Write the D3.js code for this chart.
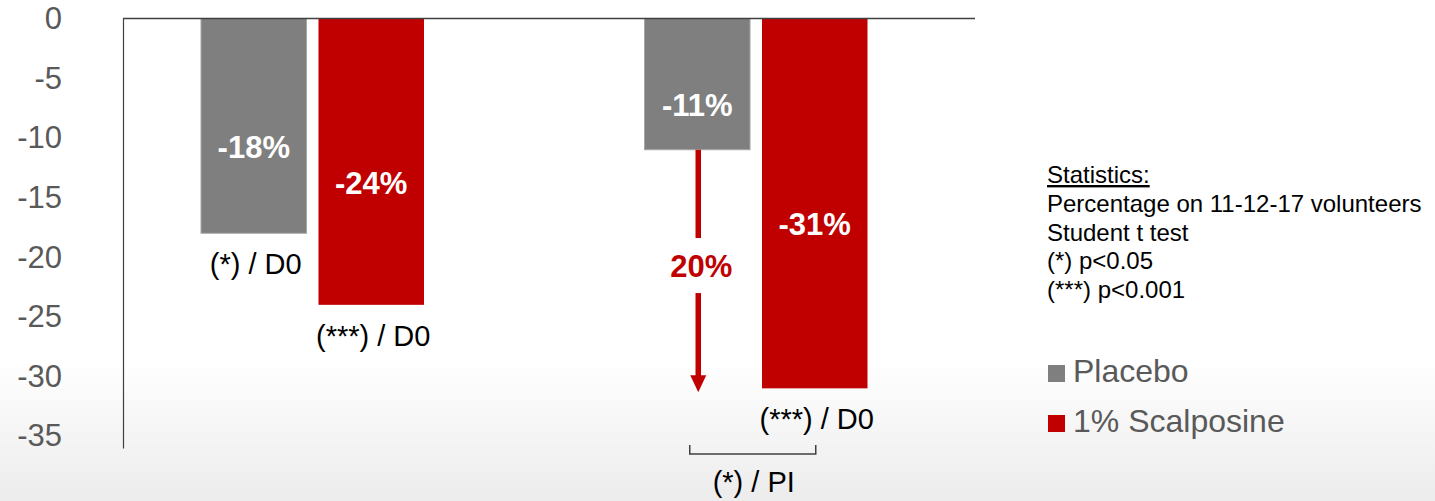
<!DOCTYPE html>
<html>
<head>
<meta charset="utf-8">
<script src="https://cdn.jsdelivr.net/npm/d3@7"></script>
<style>
  body { margin: 0; background: #fff; }
  svg { display: block; font-family: Arial, "Liberation Sans", sans-serif; }
</style>
</head>
<body>
<div id="chart"></div>
<script>
// data
var categories = ["Group 1", "Group 2"];
var seriesNames = ["Placebo", "1% Scalposine"];
var placeboValues = [-18, -11];
var scalposineValues = [-24, -31];
var placeboSignif = ["(*) / D0", ""];
var scalposineSignif = ["(***) / D0", "(***) / D0"];
var yTicks = [0, -5, -10, -15, -20, -25, -30, -35];
var bracketLabel = "(*) / PI";
var statsLines = ["Statistics:", "Percentage on 11-12-17 volunteers", "Student t test", "(*) p<0.05", "(***) p<0.001"];
var seriesColors = ["#7f7f7f", "#c00000"];

(function () {
  'use strict'

  var width = 1435, height = 501;

  var svg = d3.select("#chart").append("svg")
    .attr("width", width)
    .attr("height", height);

  // light gradient at the bottom of the slide
  var defs = svg.append("defs");
  var grad = defs.append("linearGradient")
    .attr("id", "bgGrad")
    .attr("x1", 0).attr("y1", 0).attr("x2", 0).attr("y2", 1);
  grad.append("stop").attr("offset", "0%").attr("stop-color", "#ffffff");
  grad.append("stop").attr("offset", "72%").attr("stop-color", "#ffffff");
  grad.append("stop").attr("offset", "100%").attr("stop-color", "#ececec");
  svg.append("rect").attr("width", width).attr("height", height).attr("fill", "url(#bgGrad)");

  var rows = categories.map(function (c, i) {
    return {
      cat: c,
      values: [
        { name: seriesNames[0], value: placeboValues[i], signif: placeboSignif[i] },
        { name: seriesNames[1], value: scalposineValues[i], signif: scalposineSignif[i] }
      ]
    };
  });

  var y = d3.scaleLinear().domain([-36, 0]).range([448, 18.5]);
  var x0 = d3.scalePoint().domain(categories).range([312.5, 756]);
  var x1 = d3.scaleBand().domain(seriesNames).range([-111.5, 111.5]).paddingInner(0.102);
  var color = d3.scaleOrdinal().domain(seriesNames).range(seriesColors);
  var bw = x1.bandwidth();
  var axisX = 123, plotRight = 975;

  // y axis (plain hyphen, not the unicode minus)
  var yAxis = svg.append("g")
    .attr("class", "yAxis")
    .attr("transform", "translate(" + axisX + ",0)")
    .call(d3.axisLeft(y).tickValues(yTicks).tickSize(0).tickPadding(61)
      .tickFormat(function (d) { return String(d); }));
  yAxis.select(".domain").attr("stroke", "#404040").attr("stroke-width", 1.2);
  yAxis.selectAll(".tick text")
    .attr("fill", "#595959")
    .style("font-family", "Arial, 'Liberation Sans', sans-serif")
    .style("font-size", "31px");

  // bars
  var groupG = svg.selectAll(".grp")
    .data(rows)
    .enter().append("g")
    .attr("class", "grp")
    .attr("transform", function (d) { return "translate(" + x0(d.cat) + ",0)"; });

  groupG.selectAll("rect")
    .data(function (d) { return d.values; })
    .enter().append("rect")
    .attr("x", function (d) { return x1(d.name); })
    .attr("y", y(0))
    .attr("width", bw)
    .attr("height", function (d) { return y(d.value) - y(0); })
    .attr("fill", function (d) { return color(d.name); })
    .attr("stroke", function (d) { return d.name == seriesNames[0] ? "#a6a6a6" : "none"; })
    .attr("stroke-width", 1);

  // value labels inside the bars
  groupG.selectAll(".valLbl")
    .data(function (d) { return d.values; })
    .enter().append("text")
    .attr("class", "valLbl")
    .attr("x", function (d) { return x1(d.name) + bw / 2; })
    .attr("y", function (d) { return y(d.value / 2) + 32; })
    .attr("text-anchor", "middle")
    .attr("fill", "#ffffff")
    .style("font-weight", "bold")
    .style("font-size", "31px")
    .text(function (d) { return d.value + "%"; });

  // significance under the bars
  groupG.selectAll(".sigLbl")
    .data(function (d) { return d.values.filter(function (v) { return v.signif; }); })
    .enter().append("text")
    .attr("class", "sigLbl")
    .attr("x", function (d) { return x1(d.name) + bw / 2 + 2; })
    .attr("y", function (d) { return y(d.value) + 41; })
    .attr("text-anchor", "middle")
    .attr("fill", "#000000")
    .style("font-size", "29px")
    .text(function (d) { return d.signif; });

  // zero line along the top
  svg.append("line")
    .attr("x1", axisX).attr("x2", plotRight)
    .attr("y1", y(0)).attr("y2", y(0))
    .attr("stroke", "#404040").attr("stroke-width", 1.6);

  // arrow placebo -> scalposine in the second group
  var last = rows[1];
  var ax = x0(last.cat) + x1(seriesNames[0]) + bw / 2 + 1;
  var yFrom = y(last.values[0].value);
  var yTip = y(last.values[1].value) + 4;
  var midY = (yFrom + yTip) / 2 - 5;
  var red = seriesColors[1];
  svg.append("line")
    .attr("x1", ax).attr("x2", ax)
    .attr("y1", yFrom).attr("y2", midY - 28)
    .attr("stroke", red).attr("stroke-width", 5.5);
  svg.append("line")
    .attr("x1", ax).attr("x2", ax)
    .attr("y1", midY + 27).attr("y2", yTip - 15)
    .attr("stroke", red).attr("stroke-width", 5.5);
  svg.append("path")
    .attr("d", "M" + (ax - 8) + "," + (yTip - 17) + "L" + (ax + 8) + "," + (yTip - 17) + "L" + ax + "," + yTip + "Z")
    .attr("fill", red);
  svg.append("text")
    .attr("x", ax + 3)
    .attr("y", midY + 11)
    .attr("text-anchor", "middle")
    .attr("fill", red)
    .style("font-weight", "bold")
    .style("font-size", "31px")
    .text(Math.abs(last.values[1].value - last.values[0].value) + "%");

  // bracket under the second group
  var bx1 = ax - 8.5;
  var bx2 = x0(last.cat) + x1(seriesNames[1]) + bw / 2 + 1;
  var by = y.range()[0] + 6;
  svg.append("path")
    .attr("d", "M" + bx1 + "," + (by - 9) + "V" + by + "H" + bx2 + "V" + (by - 9))
    .attr("fill", "none")
    .attr("stroke", "#404040")
    .attr("stroke-width", 1.5);
  svg.append("text")
    .attr("x", (bx1 + bx2) / 2 + 1)
    .attr("y", by + 38)
    .attr("text-anchor", "middle")
    .attr("fill", "#000000")
    .style("font-size", "29px")
    .text(bracketLabel);

  // statistics note
  svg.append("g")
    .selectAll("text")
    .data(statsLines)
    .enter().append("text")
    .attr("x", 1047)
    .attr("y", function (d, i) { return 183 + i * 28.75; })
    .attr("fill", "#000000")
    .style("font-size", "24px")
    .style("text-decoration", function (d, i) { return i == 0 ? "underline" : null; })
    .text(function (d) { return d; });

  // legend
  var leg = svg.append("g")
    .selectAll("g")
    .data(seriesNames)
    .enter().append("g")
    .attr("transform", function (d, i) { return "translate(1048," + (365 + i * 50) + ")"; });
  leg.append("rect")
    .attr("width", 17).attr("height", 17)
    .attr("fill", function (d) { return color(d); });
  leg.append("text")
    .attr("x", 25)
    .attr("y", 17)
    .attr("fill", "#595959")
    .style("font-size", "32px")
    .text(function (d) { return d; });

})()
</script>
</body>
</html>
